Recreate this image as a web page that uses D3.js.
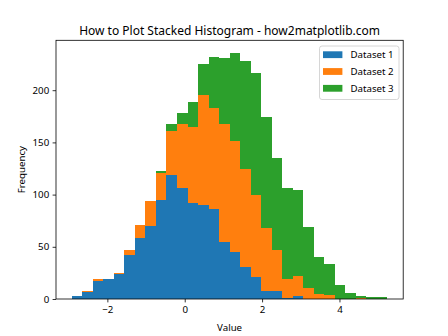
<!DOCTYPE html>
<html>
<head>
<meta charset="utf-8">
<script src="https://cdn.jsdelivr.net/npm/d3@7"></script>
<style>
  html, body { margin: 0; padding: 0; background: #fff; }
  svg { display: block; }
  text { font-family: "Noto Sans", "DejaVu Sans", sans-serif; fill: #000; }
</style>
</head>
<body>
<svg id="chart" width="448" height="336"></svg>
<script>
// Histogram bins: 30 equal-width bins between binLo and binHi
const binLo = -2.92;
const binHi = 5.24;
const binCount = 30;

// Counts per bin for each dataset (stacked in this order)
const seriesNames = ["Dataset 1", "Dataset 2", "Dataset 3"];
const dataset1 = [3, 7, 17, 19, 24, 42, 58, 70, 95, 119, 106, 92, 90, 86, 55, 45, 31, 21, 8, 8, 1, 3, 0, 0, 0, 0, 0, 0, 0, 0];
const dataset2 = [0, 1, 2, 0, 1, 5, 13, 24, 26, 42, 62, 73, 105, 97, 113, 106, 94, 79, 60, 39, 18, 19, 11, 5, 4, 0, 0, 1, 0, 0];
const dataset3 = [0, 0, 0, 0, 0, 0, 0, 0, 2, 7, 10, 24, 30, 49, 63, 85, 103, 116, 106, 88, 87, 82, 58, 35, 30, 13, 6, 2, 2, 2];
const colors = ["#1f77b4", "#ff7f0e", "#2ca02c"];

const xTicks = [-2, 0, 2, 4];
const yTicks = [0, 50, 100, 150, 200];

const W = 448, H = 336;
const margin = { left: 56, right: 448 - 403.2, top: 40.3, bottom: 336 - 299 };
const svg = d3.select("#chart");

const binW = (binHi - binLo) / binCount;
const rows = dataset1.map((v, i) => ({
  x0: binLo + i * binW,
  x1: binLo + (i + 1) * binW,
  "Dataset 1": v,
  "Dataset 2": dataset2[i],
  "Dataset 3": dataset3[i]
}));

const stack = d3.stack().keys(seriesNames)(rows);
const maxTotal = d3.max(rows, r => r["Dataset 1"] + r["Dataset 2"] + r["Dataset 3"]);

const xPad = (binHi - binLo) * 0.05;
const x = d3.scaleLinear()
  .domain([binLo - xPad, binHi + xPad])
  .range([margin.left, W - margin.right]);
const y = d3.scaleLinear()
  .domain([0, maxTotal * 1.05])
  .range([H - margin.bottom, margin.top]);

// Stacked bars
svg.append("g").selectAll("g")
  .data(stack)
  .join("g")
  .attr("fill", (d, i) => colors[i])
  .selectAll("rect")
  .data(d => d)
  .join("rect")
  .attr("x", d => x(d.data.x0))
  .attr("width", d => x(d.data.x1) - x(d.data.x0))
  .attr("y", d => y(d[1]))
  .attr("height", d => Math.max(0, y(d[0]) - y(d[1])))
  .attr("shape-rendering", "crispEdges");

// Axes
const xAxis = d3.axisBottom(x).tickValues(xTicks).tickSize(3.4).tickPadding(3.4)
  .tickFormat(d => d < 0 ? "\u2212" + Math.abs(d) : d);
const yAxis = d3.axisLeft(y).tickValues(yTicks).tickSize(3.4).tickPadding(3.4);

const gx = svg.append("g").attr("transform", `translate(0,${H - margin.bottom})`).call(xAxis);
const gy = svg.append("g").attr("transform", `translate(${margin.left},0)`).call(yAxis);
[gx, gy].forEach(g => {
  g.select(".domain").remove();
  g.selectAll(".tick line").attr("stroke", "#000").attr("stroke-width", 0.8);
  g.selectAll(".tick text").attr("font-size", 9.7).attr("fill", "#000")
    .style("font-family", '"Noto Sans", sans-serif');
});

// Frame
svg.append("rect")
  .attr("x", margin.left).attr("y", margin.top)
  .attr("width", W - margin.left - margin.right)
  .attr("height", H - margin.top - margin.bottom)
  .attr("fill", "none").attr("stroke", "#000").attr("stroke-width", 0.8);

// Title and axis labels
svg.append("text")
  .attr("x", (margin.left + W - margin.right) / 2).attr("y", 34.5)
  .attr("text-anchor", "middle").attr("font-size", 12)
  .text("How to Plot Stacked Histogram - how2matplotlib.com");

svg.append("text")
  .attr("x", (margin.left + W - margin.right) / 2).attr("y", 330.5)
  .attr("text-anchor", "middle").attr("font-size", 9.7)
  .text("Value");

svg.append("text")
  .attr("transform", `translate(25,${(margin.top + H - margin.bottom) / 2}) rotate(-90)`)
  .attr("text-anchor", "middle").attr("font-size", 9.7)
  .text("Frequency");

// Legend
const lg = svg.append("g");
lg.append("rect")
  .attr("x", 319.5).attr("y", 46).attr("width", 79.5).attr("height", 53.5)
  .attr("rx", 2.5).attr("fill", "#fff").attr("fill-opacity", 0.8)
  .attr("stroke", "#ccc").attr("stroke-width", 0.8);
seriesNames.forEach((name, i) => {
  const cy = 54.7 + i * 16.8;
  lg.append("rect")
    .attr("x", 323).attr("y", cy - 3.4).attr("width", 19.4).attr("height", 6.8)
    .attr("fill", colors[i]);
  lg.append("text")
    .attr("x", 350.5).attr("y", cy + 3.5).attr("font-size", 9.7)
    .text(name);
});
</script>
</body>
</html>
